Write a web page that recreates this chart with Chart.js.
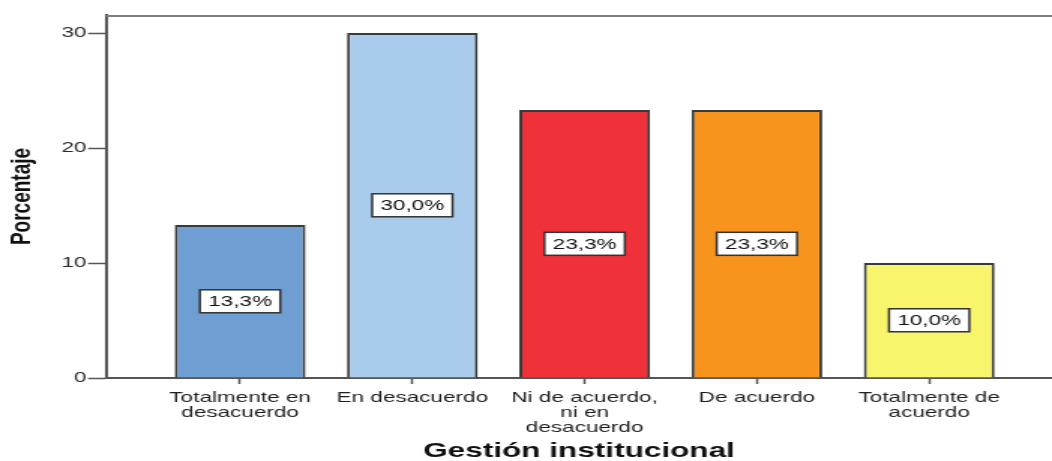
<!DOCTYPE html>
<html lang="es">
<head>
<meta charset="utf-8">
<title>Gestión institucional</title>
<script src="https://cdn.jsdelivr.net/npm/chart.js@4.4.1/dist/chart.umd.min.js"></script>
<style>
  html, body { margin: 0; padding: 0; background: #ffffff; overflow: hidden; }
  /* the chart is laid out on a narrower canvas and widened horizontally */
  #wrap { width: 701px; height: 461px; transform: scaleX(1.50071); transform-origin: 0 0; }
  #chart { display: block; }
</style>
</head>
<body>
<div id="wrap"><canvas id="chart" width="701" height="461"></canvas></div>
<script>
// Categories (one entry per bar, split into the lines shown under the axis)
const categories = [
  ['Totalmente en', 'desacuerdo'],
  ['En desacuerdo'],
  ['Ni de acuerdo,', 'ni en', 'desacuerdo'],
  ['De acuerdo'],
  ['Totalmente de', 'acuerdo']
];

// Percentage of answers per category
const percentages = [13.3, 30.0, 23.3, 23.3, 10.0];

// Value-axis tick labels
const yTicks = [0, 10, 20, 30];

// Bar fill colours
const barColors = ['#6f9fd2', '#a9cbec', '#ef3239', '#f6941e', '#f8f46c'];

const FONT = "'Liberation Sans', Arial, sans-serif";

const formatPct = v => v.toFixed(1).replace('.', ',') + '%';

// Thin line closing the plot frame at the top
const topFrame = {
  id: 'topFrame',
  afterDraw(chart) {
    const { ctx, chartArea } = chart;
    ctx.save();
    ctx.strokeStyle = '#7d7d7d';
    ctx.lineWidth = 2;
    ctx.beginPath();
    ctx.moveTo(chartArea.left, chartArea.top + 1);
    ctx.lineTo(chartArea.right, chartArea.top + 1);
    ctx.stroke();
    ctx.restore();
  }
};

// Boxed percentage label in the middle of each bar
const valueLabels = {
  id: 'valueLabels',
  afterDatasetsDraw(chart) {
    const { ctx } = chart;
    const meta = chart.getDatasetMeta(0);
    ctx.save();
    ctx.font = '15px ' + FONT;
    ctx.textAlign = 'center';
    ctx.textBaseline = 'middle';
    meta.data.forEach((bar, i) => {
      const text = formatPct(percentages[i]);
      const cx = bar.x;
      const cy = (bar.y + bar.base) / 2;
      const w = ctx.measureText(text).width + 11;
      const h = 23;
      ctx.fillStyle = '#ffffff';
      ctx.fillRect(cx - w / 2, cy - h / 2, w, h);
      ctx.strokeStyle = '#333333';
      ctx.lineWidth = 1.5;
      ctx.strokeRect(cx - w / 2, cy - h / 2, w, h);
      ctx.fillStyle = '#111111';
      ctx.fillText(text, cx, cy + 1);
    });
    ctx.restore();
  }
};

new Chart(document.getElementById('chart'), {
  type: 'bar',
  data: {
    datasets: [{
      data: percentages.map((v, i) => ({ x: i + 1, y: v })),
      backgroundColor: barColors,
      borderColor: '#3a3a3a',
      borderWidth: 2,
      categoryPercentage: 1,
      barPercentage: 0.759
    }]
  },
  options: {
    responsive: false,
    animation: false,
    layout: { padding: { top: 15, right: 0, bottom: 0, left: 0 } },
    plugins: {
      legend: { display: false },
      tooltip: { enabled: false }
    },
    scales: {
      x: {
        type: 'linear',
        min: 0.222,
        max: 5.713,
        offset: false,
        afterBuildTicks: s => { s.ticks = categories.map((_, i) => ({ value: i + 1 })); },
        afterFit: s => { s.height = 83; },
        ticks: {
          callback: v => categories[v - 1],
          font: { family: FONT, size: 15, lineHeight: 0.97 },
          color: '#1e1e1e',
          padding: 7,
          maxRotation: 0,
          autoSkip: false
        },
        grid: { drawOnChartArea: false, offset: false, tickLength: 6, tickColor: '#555555', tickWidth: 1.5 },
        border: { color: '#555555', width: 2 },
        title: {
          display: true,
          text: 'Gestión institucional',
          font: { family: FONT, size: 21, weight: 'bold' },
          color: '#111111',
          padding: { top: 0, bottom: -3 }
        }
      },
      y: {
        min: 0,
        max: 31.57,
        afterBuildTicks: s => { s.ticks = yTicks.map(v => ({ value: v })); },
        afterFit: s => { s.width = 70.67; },
        ticks: {
          font: { family: FONT, size: 15 },
          color: '#2a2a2a',
          padding: 1
        },
        grid: { drawOnChartArea: false, offset: false, tickLength: 12, tickColor: '#555555', tickWidth: 1.5 },
        border: { color: '#555555', width: 2 },
        title: {
          display: true,
          text: 'Porcentaje',
          font: { family: FONT, size: 19, weight: 'bold' },
          color: '#111111',
          padding: { top: 3, bottom: 0 }
        }
      }
    }
  },
  plugins: [topFrame, valueLabels]
});
</script>
</body>
</html>
